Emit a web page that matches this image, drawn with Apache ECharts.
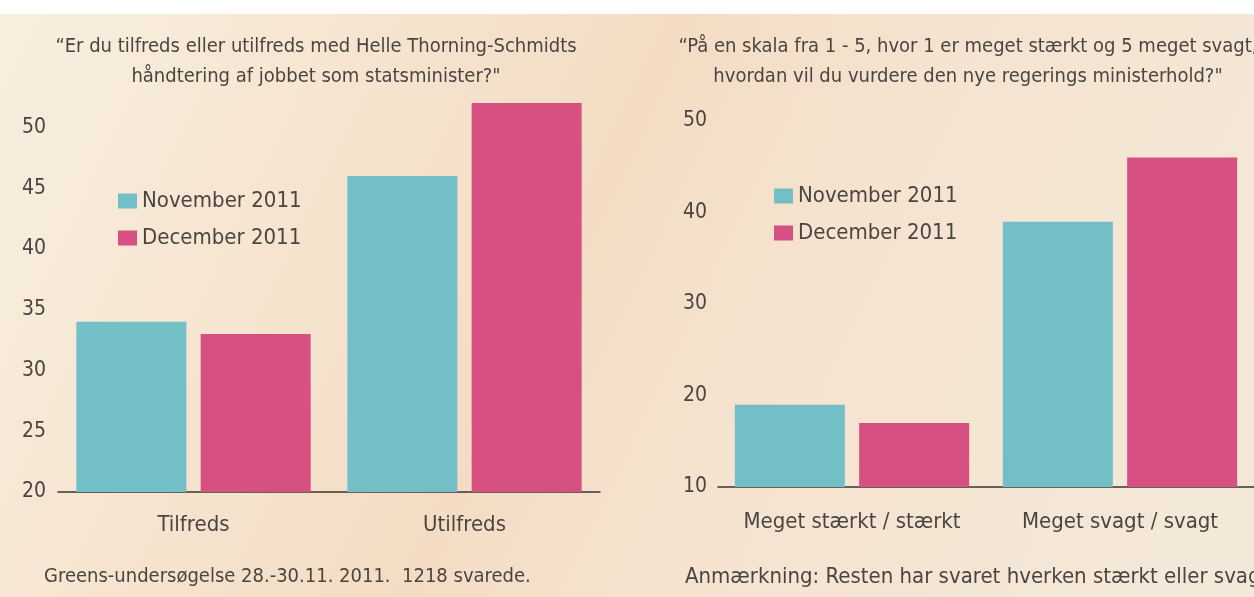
<!DOCTYPE html>
<html>
<head>
<meta charset="utf-8">
<script src="https://cdn.jsdelivr.net/npm/echarts@6/dist/echarts.min.js"></script>
<style>
html, body { margin: 0; padding: 0; }
#chart { width: 1254px; height: 597px; }
</style>
</head>
<body>
<div id="chart"></div>
<script>
// venstre: tilfredshed med statsministeren
const leftCategories = ['Tilfreds', 'Utilfreds'];
const leftNov = [34, 46];
const leftDec = [33, 52];

// højre: vurdering af ministerholdet
const rightCategories = ['Meget stærkt / stærkt', 'Meget svagt / svagt'];
const rightNov = [19, 39];
const rightDec = [17, 46];

const seriesNames = ['November 2011', 'December 2011'];

const FONT = '"DejaVu Sans Condensed", "Liberation Sans Narrow", sans-serif';
const TEXT = '#4a4541';
const TEAL = '#72bfc8';
const PINK = '#d65181';

const chart = echarts.init(document.getElementById('chart'));

function barSeries(name, data, idx, color) {
    return {
        name: name,
        type: 'bar',
        xAxisIndex: idx,
        yAxisIndex: idx,
        data: data,
        barWidth: 110,
        barGap: '13%',
        itemStyle: {color: color},
        emphasis: {disabled: true}
    };
}

const legendCommon = {
    orient: 'vertical',
    icon: 'rect',
    itemWidth: 19,
    itemHeight: 15,
    itemGap: 15,
    textStyle: {fontFamily: FONT, fontSize: 22, color: TEXT},
    data: seriesNames
};

const option = {
    backgroundColor: new echarts.graphic.LinearGradient(0, 0, 1, 1, [
        {offset: 0, color: '#f8efdf'},
        {offset: 0.45, color: '#f4dcc4'},
        {offset: 0.6, color: '#f5e3cf'},
        {offset: 1, color: '#f4e9d9'}
    ]),
    textStyle: {fontFamily: FONT},
    animation: false,
    grid: [
        {left: 58, right: 654, top: 103, bottom: 105},
        {left: 718, right: -10, top: 121, bottom: 110}
    ],
    legend: [
        Object.assign({left: 113, top: 185}, legendCommon),
        Object.assign({left: 769, top: 180}, legendCommon)
    ],
    xAxis: [
        {
            type: 'category', gridIndex: 0, data: leftCategories,
            axisLine: {lineStyle: {color: '#3a3430', width: 1.5}},
            axisTick: {show: false},
            axisLabel: {fontSize: 22, color: TEXT, margin: 22, interval: 0, fontFamily: FONT}
        },
        {
            type: 'category', gridIndex: 1, data: rightCategories,
            axisLine: {lineStyle: {color: '#3a3430', width: 1.5}},
            axisTick: {show: false},
            axisLabel: {fontSize: 22, color: TEXT, margin: 24, interval: 0, fontFamily: FONT}
        }
    ],
    yAxis: [
        {
            type: 'value', gridIndex: 0, min: 20, max: 52, interval: 5,
            axisLine: {show: false}, axisTick: {show: false}, splitLine: {show: false},
            axisLabel: {fontSize: 21, color: TEXT, margin: 12, showMaxLabel: false, fontFamily: FONT}
        },
        {
            type: 'value', gridIndex: 1, min: 10, max: 50, interval: 10,
            axisLine: {show: false}, axisTick: {show: false}, splitLine: {show: false},
            axisLabel: {fontSize: 21, color: TEXT, margin: 11, fontFamily: FONT}
        }
    ],
    series: [
        barSeries(seriesNames[0], leftNov, 0, TEAL),
        barSeries(seriesNames[1], leftDec, 0, PINK),
        barSeries(seriesNames[0], rightNov, 1, TEAL),
        barSeries(seriesNames[1], rightDec, 1, PINK)
    ],
    graphic: [
        // hvid kant øverst fra scanningen
        {type: 'rect', shape: {x: 0, y: 0, width: 1254, height: 14}, style: {fill: '#ffffff'}, z: -1},
        {
            type: 'text', z: 10,
            style: {
                x: 316, y: 32, textAlign: 'center',
                text: '\u201CEr du tilfreds eller utilfreds med Helle Thorning-Schmidts\nhåndtering af jobbet som statsminister?"',
                font: '20px ' + FONT, fill: TEXT, lineHeight: 30
            }
        },
        {
            type: 'text', z: 10,
            style: {
                x: 968, y: 32, textAlign: 'center',
                text: '\u201CPå en skala fra 1 - 5, hvor 1 er meget stærkt og 5 meget svagt,\nhvordan vil du vurdere den nye regerings ministerhold?"',
                font: '20px ' + FONT, fill: TEXT, lineHeight: 30
            }
        },
        {
            type: 'text', z: 10,
            style: {
                x: 44, y: 567,
                text: 'Greens-undersøgelse 28.-30.11. 2011.  1218 svarede.',
                font: '20px ' + FONT, fill: TEXT
            }
        },
        {
            type: 'text', z: 10,
            style: {
                x: 685, y: 566,
                text: 'Anmærkning: Resten har svaret hverken stærkt eller svagt.',
                font: '22px ' + FONT, fill: TEXT
            }
        }
    ]
};

chart.setOption(option);
</script>
</body>
</html>
